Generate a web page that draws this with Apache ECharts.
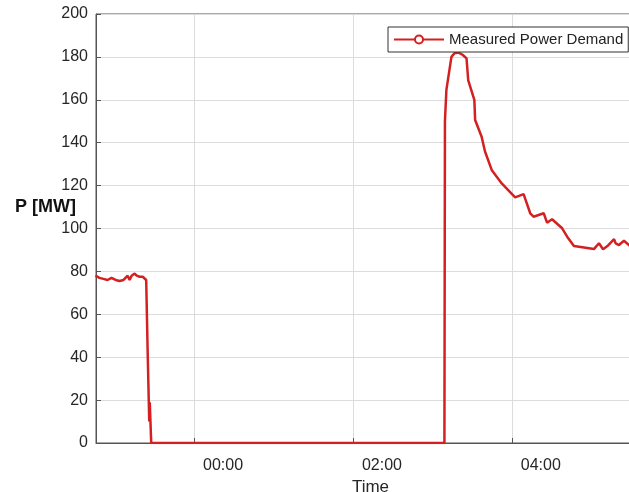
<!DOCTYPE html>
<html>
<head>
<meta charset="utf-8">
<script src="https://cdn.jsdelivr.net/npm/echarts@6/dist/echarts.min.js"></script>
<style>html,body{margin:0;padding:0;background:#fff;}#c{width:629px;height:492px;}</style>
</head>
<body>
<div id="c"></div>
<script>
// time in minutes relative to 00:00
var timeMin = [-74.4,-71.4,-68.4,-65.3,-62.3,-59.2,-56.2,-53.2,-50.1,-48.6,-47.1,-44.8,-43.3,-41.0,-38.7,-37.2,-36.1,-34.9,-33.8,-33.4,-33.0,-32.3,
  189.1,189.5,190.6,194.4,196.7,199.7,202.8,205.8,207.1,211.7,212.3,217.2,219.7,224.8,232.4,242.5,248.9,253.9,256.4,264.1,266.6,270.4,278.0,281.8,286.9,290.7,302.0,305.8,308.9,312.2,317.2,318.4,320.9,324.7,330.0];
var power = [78,77,76.5,76,77,76,75.5,76,78,76,78,79,78,77.5,77.5,77,76,40,10,19,12,0,
  0,150,164.6,180,181.7,182,181,179.3,169,160,150.6,142.8,136,127.3,121,114.5,116,107.1,105.5,107.1,102.7,104.3,100.1,96.2,91.8,91.5,90.4,93.1,90.3,91.8,95,93.1,92.3,94.3,91.5];
var xTicks = [0,120,240];
var xTickLabels = ['00:00','02:00','04:00'];
var seriesName = 'Measured Power Demand';

var data = timeMin.map(function(t,i){return [t,power[i]];});
var chart = echarts.init(document.getElementById('c'), null, {renderer:'canvas'});
var font = 'Liberation Sans, Arial, sans-serif';
chart.setOption({
  animation:false,
  backgroundColor:'#fff',
  grid:{left:96,right:-2,top:14,bottom:49,show:true,borderColor:'#555',borderWidth:1,backgroundColor:'transparent',outerBoundsMode:'none',containLabel:false},
  legend:{
    left:388, top:27, orient:'horizontal',
    backgroundColor:'#fff', borderColor:'#333', borderWidth:1, borderRadius:0,
    padding:[5,5,5,5], itemWidth:50, itemHeight:10, itemGap:5,
    textStyle:{fontFamily:font,fontSize:15,color:'#222'},
    data:[{name:seriesName}]
  },
  xAxis:{
    type:'value', min:-74, max:330,
    name:'Time', nameLocation:'middle', nameGap:34,
    nameTextStyle:{fontFamily:font,fontSize:17,color:'#262626',padding:[0,0,0,14]},
    axisLine:{show:true,onZero:false,lineStyle:{color:'#555',width:1}},
    axisTick:{show:true,inside:true,length:5,customValues:xTicks,lineStyle:{color:'#555'}},
    axisLabel:{customValues:xTicks,margin:15,align:'left',padding:[0,0,0,9],fontFamily:font,fontSize:16,color:'#262626',
      formatter:function(v){var i=xTicks.indexOf(v);return i>=0?xTickLabels[i]:'';}},
    splitLine:{show:true,lineStyle:{color:'#dcdcdc',width:1}}
  },
  yAxis:{
    type:'value', min:0, max:200, interval:20, position:'left',
    axisLine:{show:true,onZero:false,lineStyle:{color:'#555',width:1}},
    axisTick:{show:true,inside:true,length:5,lineStyle:{color:'#555'}},
    axisLabel:{margin:8,fontFamily:font,fontSize:16,color:'#262626'},
    splitLine:{show:true,lineStyle:{color:'#dcdcdc',width:1}}
  },
  graphic:[{type:'text',left:15,top:198,style:{text:'P [MW]',font:'bold 18px '+font,fill:'#111'}}],
  series:[{
    name:seriesName, type:'line', data:data,
    showSymbol:false, symbol:'emptyCircle', symbolSize:9,
    lineStyle:{color:'#d42020',width:2.5},
    itemStyle:{color:'#d42020',borderColor:'#d42020',borderWidth:2},
    clip:true
  }]
});
</script>
</body>
</html>
